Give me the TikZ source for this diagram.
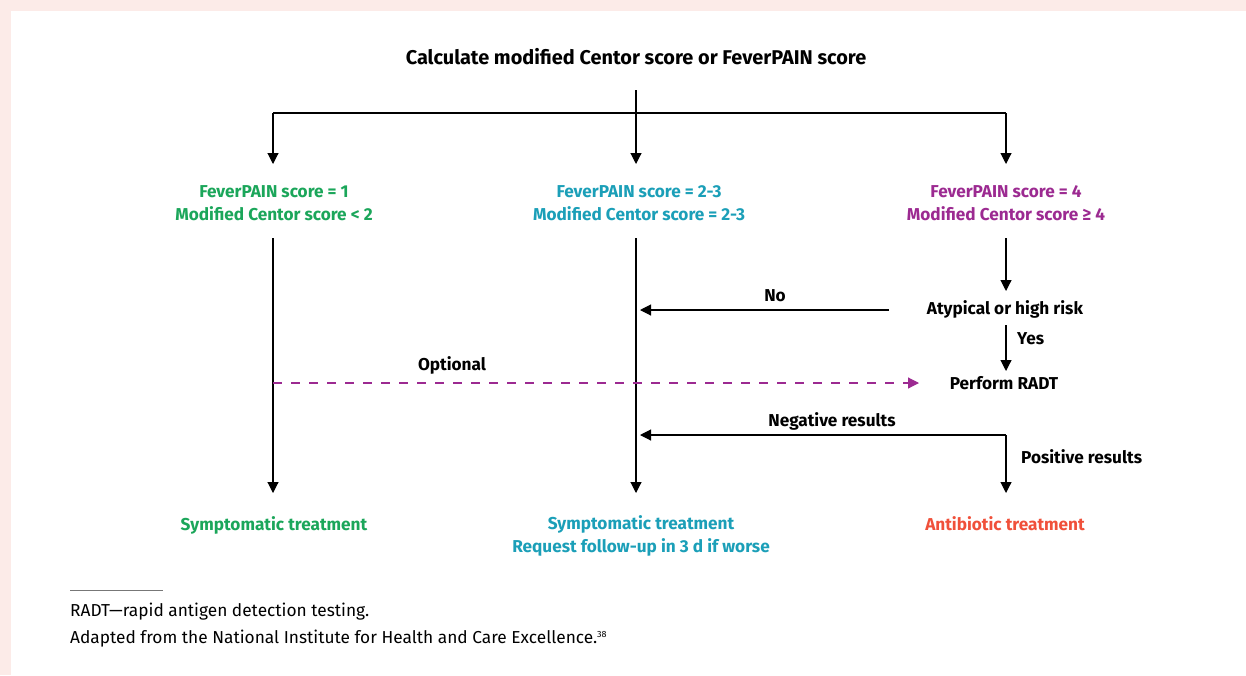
\documentclass[tikz,border=0pt]{standalone}
\usepackage{fontspec}
\setmainfont{Fira Sans}
\usetikzlibrary{arrows.meta}
\definecolor{bgpink}{HTML}{FCEBE8}
\definecolor{cgreen}{HTML}{1BA65A}
\definecolor{cteal}{HTML}{1B9FB8}
\definecolor{cpurple}{HTML}{9C2A91}
\definecolor{corange}{HTML}{F0503A}
\definecolor{cgray}{HTML}{777777}
\tikzset{
  lbl/.style={font=\fontsize{17.2}{23}\selectfont\bfseries, align=center, inner sep=0pt},
  note/.style={font=\fontsize{17.3}{20}\selectfont, anchor=west, inner sep=0pt},
  conn/.style={line width=1.1pt, -{Triangle[length=11pt,width=11pt]}},
  plain/.style={line width=1.1pt},
}
\begin{document}
\begin{tikzpicture}[x=1pt,y=-1pt]
\fill[bgpink] (0,0) rectangle (1246,675);
\fill[white] (11,11) rectangle (1246,675);
\useasboundingbox (0,0) rectangle (1246,675);

\node[lbl, font=\fontsize{19.9}{23}\selectfont\bfseries] (title) at (636,57) {Calculate modified Centor score or FeverPAIN score};

\node[lbl, text=cgreen] (low) at (274,203) {FeverPAIN score = 1\\Modified Centor score < 2};
\node[lbl, text=cteal] (mid) at (639,203) {FeverPAIN score = 2-3\\Modified Centor score = 2-3};
\node[lbl, text=cpurple] (high) at (1006,203) {FeverPAIN score = 4\\Modified Centor score ≥ 4};

\node[lbl] (atyp) at (1005,309) {Atypical or high risk};
\node[lbl] (radt) at (1004,383) {Perform RADT};

\node[lbl, text=cgreen] (symL) at (274,525) {Symptomatic treatment};
\node[lbl, text=cteal] (symM) at (641,536) {Symptomatic treatment\\Request follow-up in 3 d if worse};
\node[lbl, text=corange] (abx) at (1005,524) {Antibiotic treatment};

% junction coordinates
\coordinate (tb) at (636,90);
\coordinate (jL) at (273,113);
\coordinate (jM) at (636,113);
\coordinate (jR) at (1006,113);
\coordinate (aL) at (273,164);
\coordinate (aM) at (636,164);
\coordinate (aR) at (1006,164);

\draw[plain] (tb) -- (jM);
\draw[plain] (jL) -- (jR);
\draw[conn] (jL) -- (aL);
\draw[conn] (jM) -- (aM);
\draw[conn] (jR) -- (aR);

% left column
\coordinate (lTop) at (273,238);
\coordinate (lBot) at (273,493);
\draw[conn] (lTop) -- (lBot);

% middle column
\coordinate (mTop) at (636,238);
\coordinate (mBot) at (636,493);
\draw[conn] (mTop) -- (mBot);

% right column
\coordinate (rTop) at (1006,238);
\coordinate (rA) at (1006,291);
\draw[conn] (rTop) -- (rA);

\coordinate (noS) at (889,310);
\coordinate (noE) at (640,310);
\draw[conn] (noS) -- (noE);
\node[lbl] (nolbl) at (775,296) {No};

\coordinate (yS) at (1006,325);
\coordinate (yE) at (1006,371);
\draw[conn] (yS) -- (yE);
\node[lbl, anchor=west] (yes) at (1017,339) {Yes};

\coordinate (optS) at (273,383);
\coordinate (optE) at (919,383);
\draw[line width=1.1pt, cpurple, dash pattern=on 9pt off 9pt, -{Triangle[length=11pt,width=11pt]}] (optS) -- (optE);
\node[lbl] (opt) at (452,365) {Optional};

\coordinate (negS) at (1006,435);
\coordinate (negE) at (640,435);
\draw[conn] (negS) -- (negE);
\node[lbl] (neg) at (832,421) {Negative results};

\coordinate (pE) at (1006,493);
\draw[conn] (negS) -- (pE);
\node[lbl, anchor=west] (pos) at (1021,457) {Positive results};

% footnote
\coordinate (fnA) at (70,590);
\coordinate (fnB) at (163,590);
\draw[cgray, line width=1pt] (fnA) -- (fnB);
\node[note] (fn1) at (70,612) {RADT—rapid antigen detection testing.};
\node[note] (fn2) at (70,639) {Adapted from the National Institute for Health and Care Excellence.\textsuperscript{\fontsize{9}{9}\selectfont 38}};
\end{tikzpicture}
\end{document}
